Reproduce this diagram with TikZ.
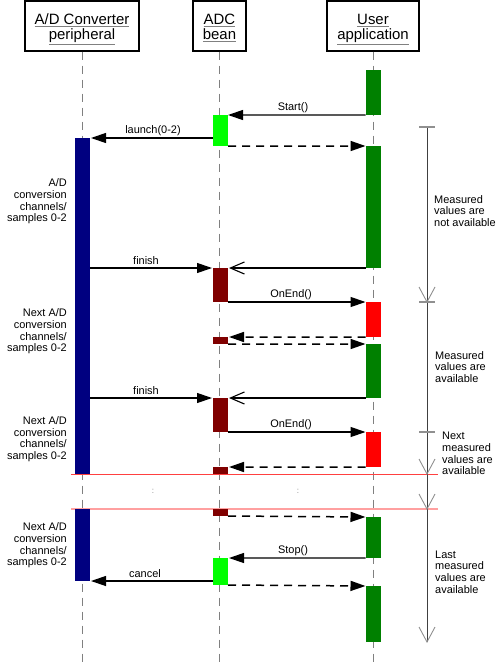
\documentclass[tikz,border=0pt]{standalone}
\usepackage{fontspec}
\setmainfont{Liberation Sans}
\usetikzlibrary{arrows.meta,calc}
\definecolor{dgreen}{HTML}{008000}
\definecolor{lgreen}{HTML}{00FF00}
\definecolor{dred}{HTML}{800000}
\definecolor{bred}{HTML}{FF0000}
\definecolor{navy}{HTML}{000080}
\definecolor{lifegray}{HTML}{808080}
\definecolor{dimdark}{HTML}{404040}
\definecolor{dimlight}{HTML}{909090}
\definecolor{sepred}{HTML}{FF4040}
\definecolor{seppink}{HTML}{FFA0A0}
\newcommand\myul[1]{\textcolor{lifegray}{\underline{\textcolor{black}{#1}}}}
\newcommand\actbox[5]{\node[actbar, fill=#5, minimum height={(#4-#3)*1bp}] (#1) at (#2,#3) {};}
\newcommand\vmark[1]{\draw[dimV] (419,#1-15) -- (427,#1) -- (435,#1-15);}
\newcommand\hmark[1]{\draw[dimtick] (419,#1) -- (435,#1);}
\begin{document}
\begin{tikzpicture}[x=1bp,y=-1bp,
  head/.style={draw, line width=1.3bp, minimum height=50bp, inner sep=0pt, align=center, font=\fontsize{15}{15}\selectfont},
  actbar/.style={inner sep=0pt, outer sep=0pt, minimum width=15bp, anchor=north},
  life/.style={lifegray, line width=1bp, dash pattern=on 8bp off 6bp},
  msg/.style={line width=1.2bp, -{Triangle[length=15bp,width=10bp]}},
  ret/.style={line width=1.5bp, dash pattern=on 8bp off 6bp, -{Triangle[length=15bp,width=10bp]}},
  async/.style={line width=1.2bp, -{Straight Barb[length=14bp,width=12bp,line width=1.1bp]}},
  lbl/.style={font=\fontsize{11}{11.7}\selectfont, inner sep=0pt, align=right},
  rlbl/.style={font=\fontsize{11}{11.7}\selectfont, inner sep=0pt, align=left, anchor=west},
  mlbl/.style={font=\fontsize{11}{11}\selectfont, inner sep=0pt},
  dimV/.style={dimlight, line width=0.9bp},
  dimtick/.style={dimlight, line width=1.2bp},
  dimline/.style={dimdark, line width=0.9bp}
]
\useasboundingbox (0,0) rectangle (500,662);
% headers
\node[head, minimum width=114bp] (h1) at (82,26) {};
\node[head, minimum width=53bp] (h2) at (219.5,26) {};
\node[head, minimum width=92bp] (h3) at (373,26) {};
\node[font=\fontsize{15}{15}\selectfont, inner sep=0pt, anchor=base] (t1a) at (82,25) {\myul{A/D Converter}};
\node[font=\fontsize{15}{15}\selectfont, inner sep=0pt, anchor=base] (t1b) at (82,40) {\myul{peripheral}};
\node[font=\fontsize{15}{15}\selectfont, inner sep=0pt, anchor=base] (t2a) at (219.5,25) {\myul{ADC}};
\node[font=\fontsize{15}{15}\selectfont, inner sep=0pt, anchor=base] (t2b) at (219.5,40) {\myul{bean}};
\node[font=\fontsize{15}{15}\selectfont, inner sep=0pt, anchor=base] (t3a) at (373,25) {\myul{User}};
\node[font=\fontsize{15}{15}\selectfont, inner sep=0pt, anchor=base] (t3b) at (373,40) {\myul{application}};
% lifelines
\coordinate (e1) at (82,662);
\coordinate (e2) at (219.5,662);
\coordinate (e3) at (373,662);
\draw[life] (h1.south) -- (e1);
\draw[life] (h2.south) -- (e2);
\draw[life] (h3.south) -- (e3);
% separators
\draw[sepred, line width=1bp] (71,474) -- (438,474);
\draw[seppink, line width=1.5bp] (71,509) -- (438,509);
\node[mlbl, text=lifegray, font=\fontsize{8}{8}\selectfont] (d1) at (153,491) {:};
\node[mlbl, text=lifegray, font=\fontsize{8}{8}\selectfont] (d2) at (298,491) {:};
% activation bars: user
\actbox{u1}{373}{70}{115}{dgreen}
\actbox{u2}{373}{146}{268}{dgreen}
\actbox{u3}{373}{302}{337}{bred}
\actbox{u4}{373}{344}{398}{dgreen}
\actbox{u5}{373}{432}{467}{bred}
\actbox{u6}{373}{517}{558}{dgreen}
\actbox{u7}{373}{586}{642}{dgreen}
% ADC bean
\actbox{a1}{220.5}{115}{146}{lgreen}
\actbox{a2}{220.5}{268}{302}{dred}
\actbox{a3}{220.5}{337}{344}{dred}
\actbox{a4}{220.5}{398}{432}{dred}
\actbox{a5}{220.5}{467}{474}{dred}
\actbox{a6}{220.5}{509}{516}{dred}
\actbox{a7}{220.5}{558}{585}{lgreen}
% peripheral
\actbox{p1}{82.5}{138}{474}{navy}
\actbox{p2}{82.5}{509}{581}{navy}
% messages
\draw[msg] (u1.south west) -- (a1.north east);
\node[mlbl] (l1) at (293,108) {Start()};
\draw[msg] (a1.west |- p1.north) -- ($(p1.north east)+(1,0)$);
\node[mlbl] (l2) at (153,131) {launch(0-2)};
\draw[ret] (a1.south east) -- (u2.north west);
\draw[msg] (p1.east |- a2.north) -- ($(a2.north west)+(-1,0)$);
\node[mlbl] (l3) at (146,261) {finish};
\draw[async] (u2.south west) -- ($(a2.north east)+(1,0)$);
\draw[msg] (a2.south east) -- (u3.north west);
\node[mlbl] (l4) at (291,295) {OnEnd()};
\draw[ret] (u3.south west) -- ($(a3.north east)+(1,0)$);
\draw[ret] (a3.south east) -- (u4.north west);
\draw[msg] (p1.east |- a4.north) -- ($(a4.north west)+(-1,0)$);
\node[mlbl] (l5) at (146,391) {finish};
\draw[async] (u4.south west) -- ($(a4.north east)+(1,0)$);
\draw[msg] (a4.south east) -- (u5.north west);
\node[mlbl] (l6) at (291,425) {OnEnd()};
\draw[ret] (u5.south west) -- ($(a5.north east)+(1,0)$);
\draw[ret] (a6.south east) -- (u6.north west);
\draw[msg] (u6.south west) -- ($(a7.north east)+(1,0)$);
\node[mlbl] (l7) at (293,551) {Stop()};
\draw[msg] (a7.west |- p2.south) -- ($(p2.south east)+(1,0)$);
\node[mlbl] (l8) at (145,574) {cancel};
\draw[ret] (a7.south east) -- (u7.north west);
% left notes
\node[lbl, anchor=east] (n1) at (67,201.5) {A/D\\conversion\\channels/\\samples 0-2};
\node[lbl, anchor=east] (n2) at (67,331.5) {Next A/D\\conversion\\channels/\\samples 0-2};
\node[lbl, anchor=east] (n3) at (67,439) {Next A/D\\conversion\\channels/\\samples 0-2};
\node[lbl, anchor=east] (n4) at (67,545.5) {Next A/D\\conversion\\channels/\\samples 0-2};
% dimension lines
\coordinate (dtop) at (427,127);
\coordinate (dbot) at (427,642);
\draw[dimline] (dtop) -- (dbot);
\hmark{127}
\hmark{302}
\hmark{432}
\vmark{302}
\vmark{474}
\vmark{509}
\vmark{642}
\node[rlbl] (r1) at (434,211) {Measured\\values are\\not available};
\node[rlbl] (r2) at (435,367) {Measured\\values are\\available};
\node[rlbl] (r3) at (442,453.5) {Next\\measured\\values are\\available};
\node[rlbl] (r4) at (435,572) {Last\\measured\\values are\\available};
\end{tikzpicture}
\end{document}
